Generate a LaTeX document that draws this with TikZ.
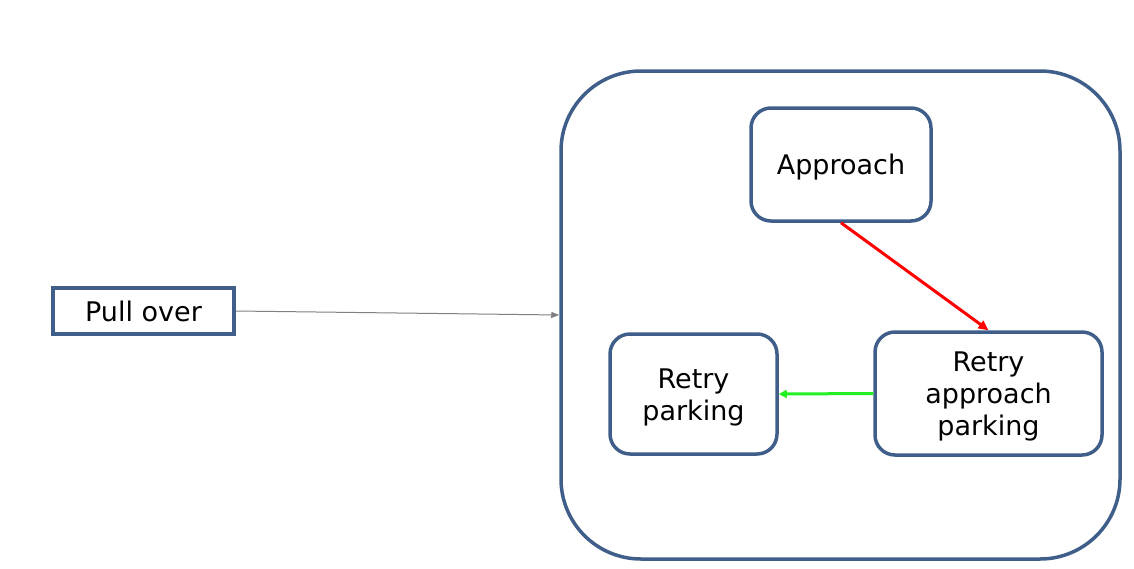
\documentclass[tikz,border=0pt]{standalone}
\usepackage{fontspec}
\setmainfont{DejaVu Sans}
\usetikzlibrary{arrows.meta,positioning}

\definecolor{boxblue}{HTML}{3F5F8A}
\definecolor{linkgreen}{HTML}{22F022}
\newcommand{\topstrut}{\rule{0pt}{26pt}}

\begin{document}
\begin{tikzpicture}[x=1pt,y=-1pt,
  state/.style={draw=boxblue,line width=3.5pt,rounded corners=20pt,inner sep=0pt,align=center,
    font=\fontsize{27}{32}\selectfont},
  plain/.style={draw=boxblue,line width=3.5pt,inner sep=0pt,font=\fontsize{27}{32}\selectfont}]
\useasboundingbox (0,0) rectangle (1134,568);
\node[draw=boxblue,line width=3.5pt,rounded corners=80pt,minimum width=559pt,minimum height=488pt] (group) at (840.5,315) {};
\node[plain,minimum width=181pt,minimum height=46pt] (pull) at (143.5,311) {Pull over};
\node[state,minimum width=180pt,minimum height=113pt] (approach) at (841,164.5) {\topstrut Approach};
\node[state,minimum width=167pt,minimum height=120pt] (retrypark) at (693.5,394) {\topstrut Retry\\parking};
\node[state,minimum width=227pt,minimum height=123pt] (retryapp) at (988.5,393.5) {\topstrut Retry\\approach\\parking};
\draw[gray,line width=1pt,-{Triangle[length=8pt,width=6pt]}] (pull.east) -- (group.west);
\draw[red,line width=3pt,-{Triangle[length=10pt,width=9pt]}] (approach.south) -- (retryapp.north);
\draw[linkgreen,line width=3pt,-{Triangle[length=8pt,width=8pt]}] (retryapp.west) -- (retrypark.east);
\end{tikzpicture}
\end{document}
